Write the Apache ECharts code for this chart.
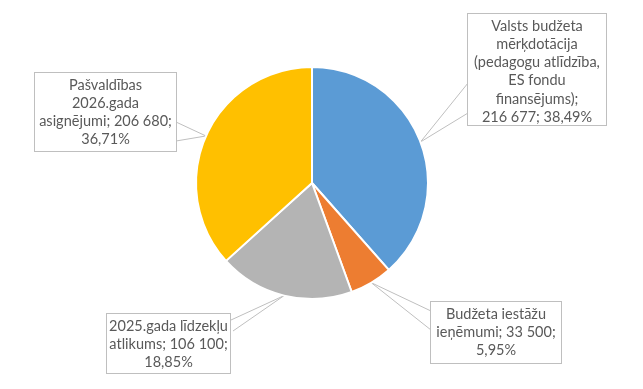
<!DOCTYPE html>
<html>
<head>
<meta charset="utf-8">
<script src="https://cdn.jsdelivr.net/npm/echarts@6/dist/echarts.min.js"></script>
<style>html,body{margin:0;padding:0;background:#fff}#c{width:643px;height:389px}</style>
</head>
<body>
<div id="c"></div>
<script>
// ---- data ----
var categories = [
  "Valsts budžeta\nmērķdotācija\n(pedagogu atlīdzība,\nES fondu\nfinansējums)",
  "Budžeta iestāžu\nieņēmumi",
  "2025.gada līdzekļu\natlikums",
  "Pašvaldības\n2026.gada\nasignējumi"
];
var values = [216677, 33500, 106100, 206680];
var breakBeforeValue = [true, false, false, false];
var colors = ["#5B9BD5", "#ED7D31", "#B4B4B4", "#FFC000"];

// ---- layout (label boxes: left, top, width, height; callout base points) ----
var boxes = [
  [468, 14, 138, 111],
  [431, 302, 130, 61],
  [107, 314, 123, 59],
  [35, 73, 141, 78]
];
var wedgeBase = [
  [[468, 83], [468, 113]],
  [[431, 311], [431, 330]],
  [[231, 320], [233, 331]],
  [[176, 122], [176, 141]]
];
var padV = 2, padH = 2;

function fmtNum(v) {
  return String(v).replace(/\B(?=(\d{3})+(?!\d))/g, " ");
}

var data = categories.map(function (n, i) {
  return {
    name: n,
    value: values[i],
    itemStyle: { color: colors[i] },
    label: { width: boxes[i][2] - 2 * padH, height: boxes[i][3] - 2 * padV }
  };
});

var chart = echarts.init(document.getElementById('c'), null, { renderer: 'canvas' });
chart.setOption({
  animation: false,
  series: [{
    type: 'pie',
    center: [312, 183],
    radius: 116,
    startAngle: 90,
    clockwise: true,
    avoidLabelOverlap: false,
    itemStyle: { borderColor: '#fff', borderWidth: 2 },
    emphasis: { disabled: true },
    label: {
      show: true,
      position: 'outside',
      fontFamily: 'Lato',
      fontSize: 14.5,
      lineHeight: 18.2,
      color: '#595959',
      backgroundColor: '#fff',
      borderColor: '#BFBFBF',
      borderWidth: 1,
      padding: [padV + 1, padH, padV - 1, padH],
      overflow: 'none',
      align: 'center',
      verticalAlign: 'top',
      formatter: function (p) {
        var i = p.dataIndex;
        var pct = p.percent.toFixed(2).replace('.', ',') + '%';
        var s1 = breakBeforeValue[i] ? ';\n' : '; ';
        var s2 = breakBeforeValue[i] ? '; ' : ';\n';
        return p.name + s1 + fmtNum(p.value) + s2 + pct;
      }
    },
    labelLine: {
      show: true,
      length: 10,
      length2: 10,
      lineStyle: { color: '#BFBFBF', width: 1 }
    },
    labelLayout: function (params) {
      var i = params.dataIndex;
      var b = boxes[i];
      var tip = params.labelLinePoints ? params.labelLinePoints[0] : wedgeBase[i][0];
      return {
        x: b[0] + b[2] / 2,
        y: b[1],
        align: 'center',
        verticalAlign: 'top',
        labelLinePoints: [wedgeBase[i][0], tip, wedgeBase[i][1]]
      };
    },
    data: data
  }]
});
</script>
</body>
</html>
